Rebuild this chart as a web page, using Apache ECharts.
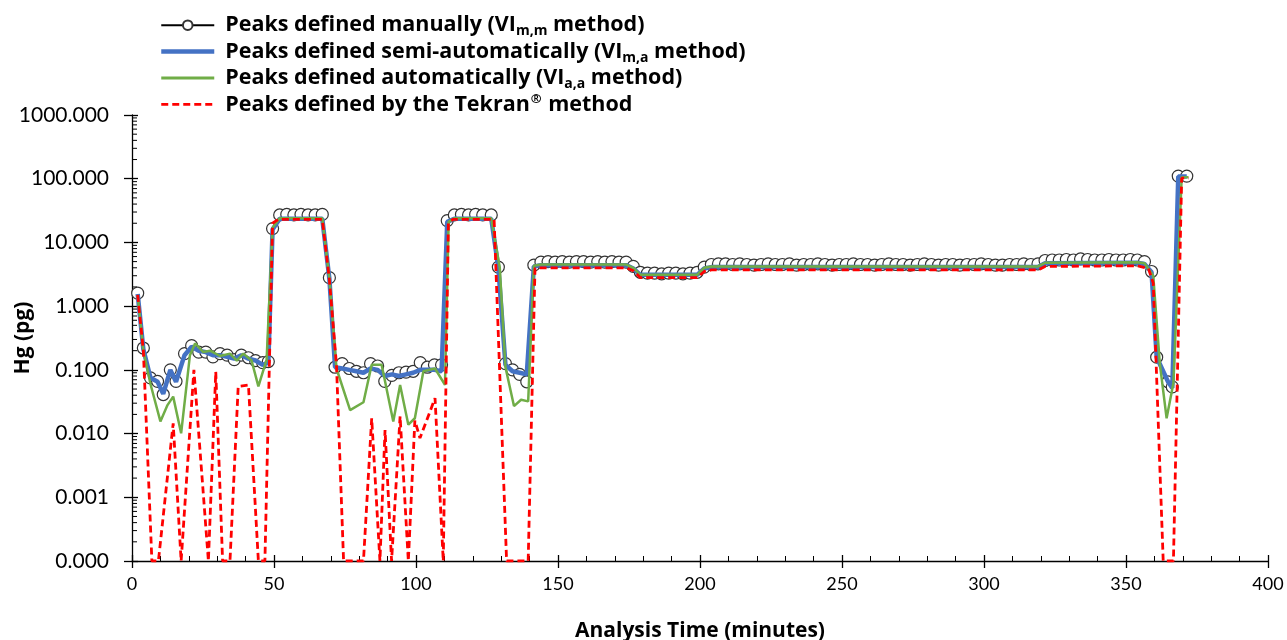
<!DOCTYPE html>
<html><head><meta charset="utf-8">
<script src="https://cdn.jsdelivr.net/npm/echarts@6/dist/echarts.min.js"></script>
<style>html,body{margin:0;padding:0;background:#fff}#c{width:1287px;height:640px}</style>
</head><body><div id="c"></div>
<script>
// ---- data (Hg in pg vs analysis time in minutes) ----
const manualTime = [
 2,4,6.5,9,11,13.5,15.5,18.5,21,23.5,26,28.5,31,33.5,36,38.5,41,43.5,46,48,
 49.5,52,54.5,57,59.5,62,64.5,67,69.5,
 71.5,74,76.5,79,81.5,84,86.5,89,91.5,94,96.5,99,101.5,104,106.5,109,
 111,113.5,116,118.5,121,123.5,126.5,129,
 131.5,134,136.5,139,
 141.5,144,146.5,149,151.5,154,156.5,159,161.5,164,166.5,169,171.5,174,
 176.5,179,181.5,184,186.5,189,191.5,194,196.5,199,201.5,
 204,206.5,209,211.5,214,216.5,219,221.5,224,226.5,229,231.5,234,236.5,239,241.5,244,246.5,249,251.5,
 254,256.5,259,261.5,264,266.5,269,271.5,274,276.5,279,281.5,284,286.5,289,291.5,294,296.5,299,301.5,
 304,306.5,309,311.5,314,316.5,319,
 321.5,324,326.5,329,331.5,334,336.5,339,341.5,344,346.5,349,351.5,354,
 356.5,359,360.8,364.8,366.3,368.4,371.4
];
const manualHg = [
 1.6,0.22,0.075,0.066,0.041,0.1,0.066,0.18,0.24,0.19,0.19,0.16,0.18,0.17,0.145,0.17,0.155,0.14,0.13,0.135,
 16.5,27,27.5,27,27.5,27,27,27.5,2.8,
 0.11,0.125,0.105,0.095,0.09,0.125,0.115,0.066,0.082,0.09,0.092,0.095,0.13,0.11,0.12,0.12,
 22,27,27.5,27,27.5,27,27,4.1,
 0.125,0.1,0.085,0.065,
 4.4,4.9,5.0,4.9,5.0,4.9,5.0,5.0,4.9,5.0,4.9,5.0,4.9,4.9,
 4.2,3.4,3.3,3.3,3.2,3.3,3.3,3.2,3.3,3.4,4.1,
 4.5,4.6,4.6,4.5,4.6,4.5,4.4,4.5,4.6,4.5,4.5,4.6,4.4,4.5,4.5,4.6,4.5,4.4,4.5,4.5,
 4.6,4.5,4.5,4.4,4.5,4.6,4.5,4.5,4.4,4.5,4.6,4.5,4.4,4.5,4.5,4.4,4.5,4.5,4.6,4.5,
 4.4,4.4,4.5,4.5,4.6,4.5,4.6,
 5.2,5.3,5.3,5.4,5.3,5.5,5.4,5.3,5.3,5.4,5.3,5.3,5.4,5.3,
 5.0,3.5,0.158,0.065,0.054,110,110
];
const semiTime = [
 2,4,6.5,9,11,13.5,15.5,18.5,21,23.5,26,28.5,31,33.5,36,38.5,41,43.5,46,48,
 49.5,52,67,69.5,
 71.5,74,76.5,79,81.5,84,86.5,89,91.5,94,96.5,99,101.5,104,106.5,109,
 111,113.5,126.5,129,
 131.5,134,136.5,139,
 141.5,144,174,176.5,179,199,201.5,204,319,321.5,354,356.5,
 359,360.8,364.8,366.3,368.4,371.4
];
const semiHg = [
 1.55,0.21,0.075,0.065,0.042,0.1,0.065,0.17,0.23,0.2,0.19,0.17,0.17,0.16,0.15,0.17,0.15,0.14,0.12,0.13,
 16,23.5,23.5,2.7,
 0.11,0.105,0.1,0.095,0.09,0.105,0.1,0.08,0.085,0.08,0.085,0.09,0.1,0.1,0.1,0.095,
 21,23.5,23.5,4,
 0.12,0.095,0.09,0.085,
 4.2,4.4,4.4,3.9,3.1,3.1,3.9,4.1,4.1,4.7,4.8,4.6,
 3.4,0.158,0.065,0.052,108,108
];
const autoTime = [
 2,4,6.5,10,12.5,14.5,17.3,20.4,22.2,25.1,27.5,31,34.5,36.9,39.2,42.1,44.5,47.4,
 49.5,52,67,69.5,
 72,76.8,81.5,84.4,87.9,92,94.4,97.3,99.6,102.6,106.7,110.2,
 111.5,113.5,126.5,129.5,
 131.5,134.5,137,139.5,
 141.5,144,174,176.5,179,199,201.5,204,319,321.5,354,356.5,
 359.6,361.9,364.3,366.7,369.6,372
];
const autoHg = [
 1.5,0.2,0.06,0.0155,0.028,0.038,0.0101,0.17,0.26,0.19,0.2,0.165,0.18,0.14,0.18,0.14,0.055,0.145,
 17,24,24,2.7,
 0.105,0.0234,0.031,0.12,0.12,0.0155,0.058,0.0138,0.0174,0.095,0.105,0.058,
 21,24,24,4,
 0.11,0.027,0.034,0.032,
 4.3,4.5,4.5,4.0,3.1,3.1,4.0,4.2,4.2,4.8,4.9,4.7,
 3.0,0.126,0.0174,0.062,105,105
];
// Tekran values at the axis floor (0.0001) are the zero readings
const tekranTime = [
 2,4,7,9.3,14.5,17.3,21.8,26.9,29.5,31.9,34.5,37.4,41,44.5,46.8,
 49.5,51.5,67,69.5,72,74.5,81.5,84.4,87.3,89.1,91.4,94.4,97.3,99.6,101.4,106.7,109.6,
 111.4,113,127.5,131.9,139.5,141.9,
 144,174,176.5,179,199,201.5,204,319,321.5,354,357.9,359.6,363.1,366.7,369.6,372
];
const tekranHg = [
 1.5,0.2,0.0001,0.0001,0.0145,0.0001,0.1,0.0001,0.093,0.0001,0.0001,0.055,0.058,0.0001,0.0001,
 20,23,23,2.6,0.12,0.0001,0.0001,0.0174,0.0001,0.0114,0.0001,0.0186,0.0001,0.016,0.0085,0.036,0.0001,
 20,23,23,0.0001,0.0001,3.9,
 4.0,4.0,3.6,2.8,2.8,3.5,3.7,3.7,4.2,4.3,3.9,2.3,0.0001,0.0001,102,102
];
const seriesNames = [
 'Peaks defined manually (VIm,m method)',
 'Peaks defined semi-automatically (VIm,a method)',
 'Peaks defined automatically (VIa,a method)',
 'Peaks defined by the Tekran® method'
];
const legendLabels = [
 '{t|Peaks defined manually (VI}{s|m,m}{t| method)}',
 '{t|Peaks defined semi-automatically (VI}{s|m,a}{t| method)}',
 '{t|Peaks defined automatically (VI}{s|a,a}{t| method)}',
 '{t|Peaks defined by the Tekran}{p|®}{t| method}'
];
const xTitle = 'Analysis Time (minutes)';
const yTitle = 'Hg (pg)';

const zip = (a, b) => a.map((v, i) => [v, b[i]]);
// minor log tick positions (axis decoration)
const minorTicks = [];
for (let e = -4; e < 3; e++) for (let m = 2; m <= 9; m++) minorTicks.push([0, m * Math.pow(10, e)]);

const FONT = 'Lato';
const BFONT = 'Open Sans';
const noSymbol = {color: 'rgba(0,0,0,0)', borderWidth: 0, borderColor: 'rgba(0,0,0,0)', opacity: 0};
const chart = echarts.init(document.getElementById('c'), null, {renderer: 'canvas'});
chart.setOption({
  animation: false,
  backgroundColor: '#fff',
  grid: {left: 132, right: 19, top: 115, bottom: 79, containLabel: false, outerBoundsMode: 'none'},
  legend: {
    orient: 'vertical', left: 154, top: 7, itemWidth: 53, itemHeight: 12, itemGap: 0,
    data: [
      {name: seriesNames[0]},
      {name: seriesNames[1], itemStyle: noSymbol, lineStyle: {width: 4.5}},
      {name: seriesNames[2], itemStyle: noSymbol, lineStyle: {width: 2.8}},
      {name: seriesNames[3], itemStyle: noSymbol, lineStyle: {width: 2.8}}
    ],
    formatter: name => legendLabels[seriesNames.indexOf(name)],
    textStyle: {
      fontFamily: BFONT, fontWeight: 'bold', fontSize: 21.5, color: '#000', lineHeight: 26.4, padding: [0,0,0,6],
      rich: {
        t: {fontFamily: BFONT, fontWeight: 'bold', fontSize: 21.5, color: '#000', lineHeight: 26.4},
        s: {fontFamily: BFONT, fontWeight: 'bold', fontSize: 14, color: '#000', padding: [12,0,0,0]},
        p: {fontFamily: BFONT, fontWeight: 'bold', fontSize: 13, color: '#000', padding: [0,1,11,1]}
      }
    }
  },
  xAxis: [{
    type: 'value', min: 0, max: 400, interval: 50,
    name: xTitle, nameLocation: 'middle', nameGap: 60,
    nameTextStyle: {fontFamily: BFONT, fontWeight: 'bold', fontSize: 21, color: '#000'},
    axisLine: {show: true, lineStyle: {color: '#000', width: 1.3}},
    axisTick: {show: true, inside: true, length: 6, lineStyle: {color: '#000', width: 1.3}},
    minorTick: {show: true, splitNumber: 5, length: 5, lineStyle: {color: '#000', width: 1}},
    axisLabel: {fontFamily: FONT, fontSize: 18, color: '#000', margin: 14},
    splitLine: {show: false}
  }, {
    type: 'value', min: 0, max: 400, interval: 50, position: 'bottom',
    axisLine: {show: false}, axisLabel: {show: false}, splitLine: {show: false},
    axisTick: {show: true, inside: false, length: 7, lineStyle: {color: '#000', width: 1.3}}
  }],
  yAxis: [{
    type: 'log', logBase: 10, min: 0.0001, max: 1000, splitNumber: 7,
    name: yTitle, nameLocation: 'middle', nameGap: 98, nameRotate: 90, nameMoveOverlap: false,
    nameTextStyle: {fontFamily: BFONT, fontWeight: 'bold', fontSize: 21, color: '#000'},
    axisLine: {show: true, lineStyle: {color: '#000', width: 1.3}},
    axisTick: {show: true, inside: true, length: 6, lineStyle: {color: '#000', width: 1.3}},
    axisLabel: {fontFamily: FONT, fontSize: 21, color: '#000', margin: 23,
      formatter: v => Number(v).toFixed(3)},
    splitLine: {show: false}
  }, {
    type: 'log', logBase: 10, min: 0.0001, max: 1000, splitNumber: 7, position: 'left',
    axisLine: {show: false}, axisLabel: {show: false}, splitLine: {show: false},
    axisTick: {show: true, inside: false, length: 8, lineStyle: {color: '#000', width: 1.3}}
  }],
  series: [
    {
      type: 'custom', silent: true, xAxisIndex: 0, yAxisIndex: 0, clip: false, z: 1,
      data: minorTicks,
      renderItem: (params, api) => {
        const p = api.coord([0, api.value(1)]);
        return {type: 'line', shape: {x1: p[0], y1: p[1], x2: p[0] + 5, y2: p[1]},
                style: {stroke: '#000', lineWidth: 1}};
      }
    },
    {
      name: seriesNames[0], type: 'line', data: zip(manualTime, manualHg), z: 2,
      symbol: 'circle', symbolSize: 12, showAllSymbol: true,
      itemStyle: {color: '#fff', borderColor: '#333', borderWidth: 1.2},
      lineStyle: {color: '#000', width: 1.3}
    },
    {
      name: seriesNames[1], type: 'line', data: zip(semiTime, semiHg), z: 3,
      symbol: 'none', itemStyle: {color: '#4472C4'}, lineStyle: {color: '#4472C4', width: 4.5}
    },
    {
      name: seriesNames[2], type: 'line', data: zip(autoTime, autoHg), z: 4,
      symbol: 'none', itemStyle: {color: '#70AD47'}, lineStyle: {color: '#70AD47', width: 2.5}
    },
    {
      name: seriesNames[3], type: 'line', data: zip(tekranTime, tekranHg), z: 5,
      symbol: 'none', itemStyle: {color: '#FF0000'}, lineStyle: {color: '#FF0000', width: 2.8, type: [7, 4]}
    }
  ]
});
</script></body></html>
